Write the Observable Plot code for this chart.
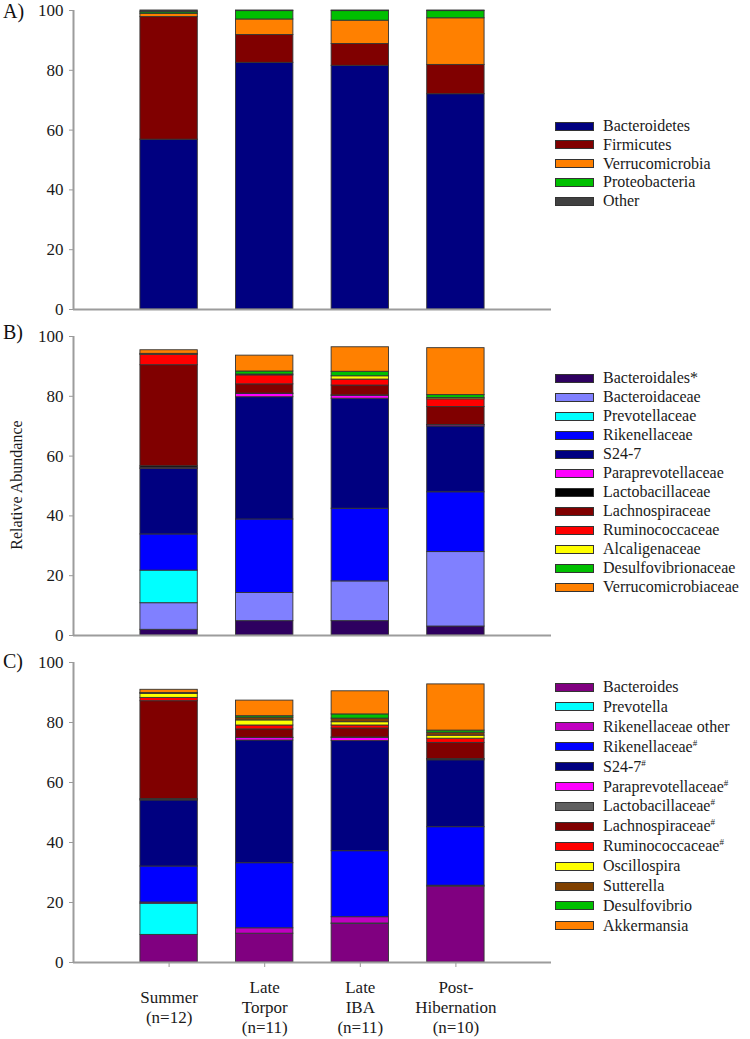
<!DOCTYPE html>
<html><head><meta charset="utf-8">
<script src="https://cdn.jsdelivr.net/npm/d3@7"></script>
<script src="https://cdn.jsdelivr.net/npm/@observablehq/plot@0.6"></script>
<style>
body{margin:0;background:#fff;font-family:"Times New Roman","Liberation Serif","DejaVu Serif",serif;}
#wrap{position:relative;width:750px;height:1039px;overflow:hidden;background:#fff;}
.panel{position:absolute;left:0;}
.plab{position:absolute;left:3px;font-size:20px;color:#111;line-height:1.1;}
.ylab{position:absolute;left:17px;top:485px;font-size:16px;color:#1a1a1a;white-space:nowrap;transform:translate(-50%,-50%) rotate(-90deg);}
.legend{position:absolute;left:555px;font-size:16px;color:#1a1a1a;}
.row{position:absolute;left:0;height:20px;display:flex;align-items:center;white-space:nowrap;}
.sw{width:37px;height:7px;border:1px solid #333;margin-right:9px;flex:none;}
sup{font-size:9px;vertical-align:6px;line-height:0;}
</style></head><body><div id="wrap"></div>
<script>
// ---- data ----
const groups = ["Summer\n(n=12)", "Late\nTorpor\n(n=11)", "Late\nIBA\n(n=11)", "Post-\nHibernation\n(n=10)"];
const yTicks = [0, 20, 40, 60, 80, 100];

const phyla = ["Bacteroidetes", "Firmicutes", "Verrucomicrobia", "Proteobacteria", "Other"];
const phylaColors = ["#000080", "#800000", "#ff8000", "#00c000", "#404040"];
const phylaValues = [
  [56.8, 41.0, 1.1, 0.5, 0.6],
  [82.5, 9.3, 5.2, 2.8, 0.2],
  [81.5, 7.3, 7.8, 3.2, 0.2],
  [72.0, 9.8, 15.6, 2.4, 0.2]
];

const families = ["Bacteroidales*", "Bacteroidaceae", "Prevotellaceae", "Rikenellaceae", "S24-7", "Paraprevotellaceae", "Lactobacillaceae", "Lachnospiraceae", "Ruminococcaceae", "Alcaligenaceae", "Desulfovibrionaceae", "Verrucomicrobiaceae"];
const familyColors = ["#2e0060", "#8080ff", "#00ffff", "#0000ff", "#000080", "#ff00ff", "#000000", "#800000", "#ff0000", "#ffff00", "#00c000", "#ff8000"];
const familyValues = [
  [1.9, 8.9, 10.9, 12.1, 21.9, 0.4, 0.5, 33.8, 3.5, 0.1, 0.2, 1.2],
  [4.8, 9.4, 0, 24.6, 40.9, 1.1, 0.1, 3.1, 3.0, 0.3, 1.0, 5.3],
  [4.8, 13.3, 0, 24.3, 36.8, 1.0, 0.1, 3.3, 2.0, 1.1, 1.5, 8.2],
  [3.0, 24.9, 0, 20.0, 22.0, 0.4, 0.1, 6.0, 2.6, 0.4, 1.0, 15.7]
];

const genera = ["Bacteroides", "Prevotella", "Rikenellaceae other", "Rikenellaceae#", "S24-7#", "Paraprevotellaceae#", "Lactobacillaceae#", "Lachnospiraceae#", "Ruminococcaceae#", "Oscillospira", "Sutterella", "Desulfovibrio", "Akkermansia"];
const genusColors = ["#800080", "#00ffff", "#c000c0", "#0000ff", "#000080", "#ff00ff", "#606060", "#800000", "#ff0000", "#ffff00", "#804000", "#00c000", "#ff8000"];
const genusValues = [
  [9.2, 10.4, 0.4, 12.0, 22.0, 0.2, 0.3, 32.6, 1.1, 1.4, 0.1, 0.1, 1.1],
  [9.6, 0, 1.8, 21.7, 40.9, 0.8, 0.1, 2.8, 1.3, 1.7, 0.9, 0.5, 5.2],
  [12.9, 0.1, 2.1, 22.0, 36.7, 1.1, 0.1, 3.0, 1.0, 1.1, 1.2, 1.4, 7.7],
  [25.3, 0, 0.3, 19.5, 22.3, 0.3, 0.1, 5.4, 1.4, 1.0, 1.0, 0.7, 15.4]
];

// ---- drawing ----
const wrap = document.getElementById("wrap");
const FONT = '"Times New Roman","Liberation Serif","DejaVu Serif",serif';

function panel({names, colors, values, top, marginBottom, plotH, letter, letterTop, legendTop, legendStep, showX}) {
  const rows = [];
  values.forEach((vals, gi) => {
    let acc = 0;
    vals.forEach((v, ti) => {
      if (v > 0) rows.push({pos: gi + 1, taxon: names[ti], y1: acc, y2: acc + v});
      acc += v;
    });
  });
  const marks = [
    Plot.rect(rows, {x1: d => d.pos - 0.3, x2: d => d.pos + 0.3, y1: "y1", y2: "y2", fill: "taxon", stroke: "#333", strokeWidth: 0.9}),
    Plot.axisY({ticks: yTicks, tickSize: 4, tickPadding: 6, stroke: "#999", fill: "#1a1a1a", fontSize: 17, label: null}),
    Plot.ruleY([0], {stroke: "#9c9c9c", strokeWidth: 2}),
    Plot.ruleX([0], {stroke: "#9c9c9c", strokeWidth: 2})
  ];
  if (showX) {
    marks.push(Plot.axisX([1, 2, 3, 4], {tickFormat: i => groups[i - 1], tickSize: 5, tickPadding: 39, lineAnchor: "middle", lineHeight: 1.18, stroke: "#999", fill: "#1a1a1a", fontSize: 17, label: null}));
  }
  const chart = Plot.plot({
    width: 560,
    height: 10 + plotH + marginBottom,
    marginTop: 10,
    marginBottom,
    marginLeft: 73,
    marginRight: 9,
    style: {fontFamily: FONT, background: "transparent", color: "#1a1a1a"},
    x: {domain: [0, 5], axis: null},
    y: {domain: [0, 100], axis: null},
    color: {domain: names, range: colors},
    marks
  });
  chart.classList.add("panel");
  chart.style.top = top + "px";
  wrap.appendChild(chart);

  const lab = document.createElement("div");
  lab.className = "plab";
  lab.style.top = letterTop + "px";
  lab.textContent = letter;
  wrap.appendChild(lab);

  const leg = document.createElement("div");
  leg.className = "legend";
  leg.style.top = legendTop + "px";
  names.forEach((n, i) => {
    const r = document.createElement("div");
    r.className = "row";
    r.style.top = (i * legendStep - 10) + "px";
    const sw = document.createElement("span");
    sw.className = "sw";
    sw.style.background = colors[i];
    r.appendChild(sw);
    const t = document.createElement("span");
    if (n.endsWith("#")) {
      t.textContent = n.slice(0, -1);
      const s = document.createElement("sup");
      s.textContent = "#";
      t.appendChild(s);
    } else t.textContent = n;
    r.appendChild(t);
    leg.appendChild(r);
  });
  wrap.appendChild(leg);
}

panel({names: phyla, colors: phylaColors, values: phylaValues, top: 0, marginBottom: 10, plotH: 299, letter: "A)", letterTop: 0, legendTop: 126, legendStep: 18.8, showX: false});
panel({names: families, colors: familyColors, values: familyValues, top: 326, marginBottom: 10, plotH: 299, letter: "B)", letterTop: 321, legendTop: 378, legendStep: 19.0, showX: false});
panel({names: genera, colors: genusColors, values: genusValues, top: 652, marginBottom: 77, plotH: 300, letter: "C)", letterTop: 650, legendTop: 687, legendStep: 19.9, showX: true});

const yl = document.createElement("div");
yl.className = "ylab";
yl.textContent = "Relative Abundance";
wrap.appendChild(yl);
</script></body></html>
